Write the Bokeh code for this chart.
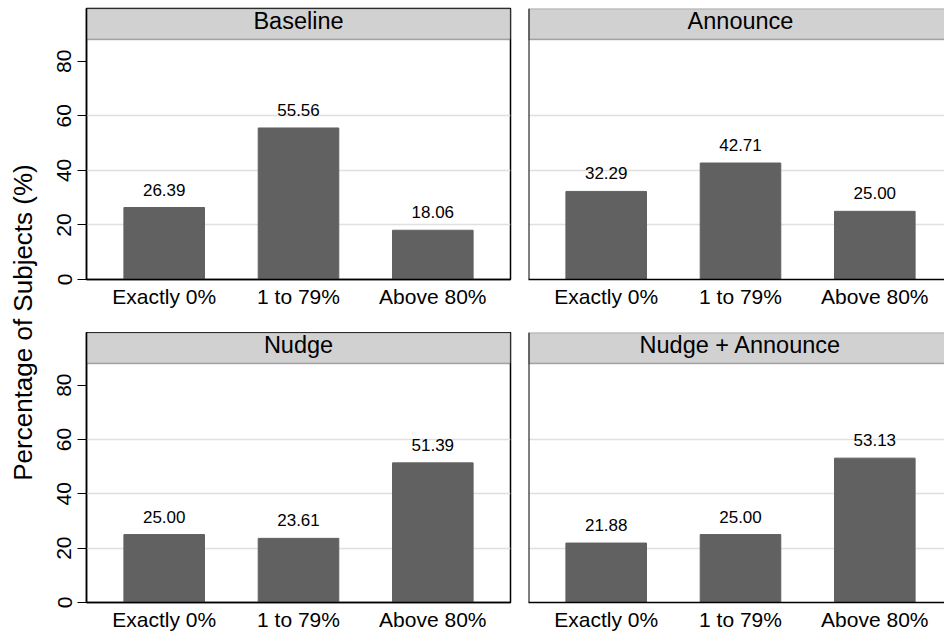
import math
from bokeh.plotting import figure
from bokeh.models import (ColumnDataSource, Range1d, FixedTicker, BoxAnnotation, Label, Span)
from bokeh.layouts import row, column
from bokeh.core.properties import value
from bokeh.embed import file_html
from bokeh.resources import INLINE

# ---------------- data ----------------
categories = ["Exactly 0%", "1 to 79%", "Above 80%"]
panel_titles = ["Baseline", "Announce", "Nudge", "Nudge + Announce"]
baseline = [26.39, 55.56, 18.06]
announce = [32.29, 42.71, 25.00]
nudge = [25.00, 23.61, 51.39]
nudge_announce = [21.88, 25.00, 53.13]
y_ticks = [0, 20, 40, 60, 80]
grid_ticks = [20, 40, 60]
y_title = "Percentage of Subjects (%)"

# ---------------- style ----------------
FONT = "Liberation Sans"
BAR_COLOR = "#616161"
STRIP_COLOR = "#d1d1d1"
GRID_COLOR = "#e0e0e0"
Y_MAX = 88.0
STRIP_H = 31
X_START = 0.4214
PX_PER_CAT = 134.3


def make_panel(title, values, left_col, top_row):
    mb_left = 38 if left_col else 9
    mb_right = 9 if left_col else 0
    frame_w = 424 if left_col else 416
    width = mb_left + frame_w + mb_right
    mb_top = 8 if top_row else 0
    mb_bottom = 53 if top_row else 30
    frame_h = 271
    height = mb_top + frame_h + mb_bottom
    x_end = X_START + frame_w / PX_PER_CAT
    y_end = Y_MAX * frame_h / (frame_h - STRIP_H)

    p = figure(width=width, height=height,
               x_range=Range1d(X_START, x_end), y_range=Range1d(0, y_end),
               output_backend="svg", toolbar_location=None,
               min_border_left=mb_left, min_border_right=mb_right,
               min_border_top=mb_top, min_border_bottom=mb_bottom)
    p.background_fill_color = "white"
    p.border_fill_color = "white"
    if left_col:
        p.outline_line_color = "black"
        p.outline_line_width = 1.5
        strip_right = x_end
    else:
        # right column is cut off by the page edge: no right border
        p.outline_line_color = None
        strip_right = X_START + (frame_w + 20) / PX_PER_CAT
        p.add_layout(Span(location=X_START, dimension="height",
                          line_color="black", line_width=2))

    xs = list(range(1, len(categories) + 1))
    src = ColumnDataSource(dict(x=xs, top=values,
                                label=["%.2f" % v for v in values]))

    # strip
    strip = BoxAnnotation(left=X_START, right=strip_right, bottom=Y_MAX, top=y_end,
                          fill_color=STRIP_COLOR, fill_alpha=1.0,
                          line_color="black", line_width=1.5, level="underlay")
    p.add_layout(strip)

    p.vbar(x="x", top="top", width=0.6, source=src,
           fill_color=BAR_COLOR, line_color=BAR_COLOR)
    p.text(x="x", y="top", text="label", source=src, y_offset=-18,
           text_align="center", text_baseline="alphabetic",
           text_font=value(FONT), text_font_size=value("17px"),
           text_color="black")
    mid = (len(categories) + 1) / 2
    p.text(x=[mid], y=[Y_MAX], text=[title], y_offset=-18.5,
           text_align="center", text_baseline="alphabetic",
           text_font=value(FONT), text_font_size=value("23.5px"),
           text_color="black")

    # x axis
    xa = p.xaxis[0]
    xa.ticker = FixedTicker(ticks=xs)
    xa.major_label_overrides = {x: c for x, c in zip(xs, categories)}
    xa.major_tick_out = 0
    xa.major_tick_in = 0
    xa.minor_tick_out = 0
    xa.minor_tick_in = 0
    xa.axis_line_color = "black"
    xa.axis_line_width = 1.5
    xa.major_label_text_font = FONT
    xa.major_label_text_font_size = "21px"
    xa.major_label_text_color = "black"
    xa.major_label_standoff = 5
    p.xgrid.visible = False

    # y axis
    ya = p.yaxis[0]
    ya.ticker = FixedTicker(ticks=y_ticks)
    ya.major_label_orientation = "vertical"
    ya.major_tick_out = 9
    ya.major_tick_in = 0
    ya.minor_tick_out = 0
    ya.minor_tick_in = 0
    ya.major_tick_line_color = "black"
    ya.major_tick_line_width = 1
    ya.axis_line_color = "black"
    ya.axis_line_width = 1.5
    ya.major_label_text_font = FONT
    ya.major_label_text_font_size = "21px"
    ya.major_label_text_color = "black"
    ya.major_label_standoff = 6
    if not left_col:
        ya.visible = False
    p.ygrid.ticker = FixedTicker(ticks=grid_ticks)
    p.ygrid.grid_line_color = GRID_COLOR
    p.ygrid.grid_line_width = 1.5
    return p


tl = make_panel(panel_titles[0], baseline, True, True)
tr = make_panel(panel_titles[1], announce, False, True)
bl = make_panel(panel_titles[2], nudge, True, False)
br = make_panel(panel_titles[3], nudge_announce, False, False)

total_h = tl.height + bl.height
lab = figure(width=48, height=total_h, x_range=Range1d(0, 1), y_range=Range1d(0, 1),
             x_axis_type=None, y_axis_type=None, output_backend="svg",
             toolbar_location=None, min_border_left=0, min_border_right=0,
             min_border_top=0, min_border_bottom=0)
lab.outline_line_color = None
lab.xgrid.visible = False
lab.ygrid.visible = False
lab.add_layout(Label(x=22, y=total_h - 322, x_units="screen", y_units="screen",
                     angle=math.pi / 2, text=y_title, text_align="center",
                     text_baseline="alphabetic", text_font=FONT,
                     text_font_size="26px", text_color="black"))

layout = row(lab, column(row(tl, tr), row(bl, br)))

open("out.html", "w").write(file_html(layout, INLINE))
